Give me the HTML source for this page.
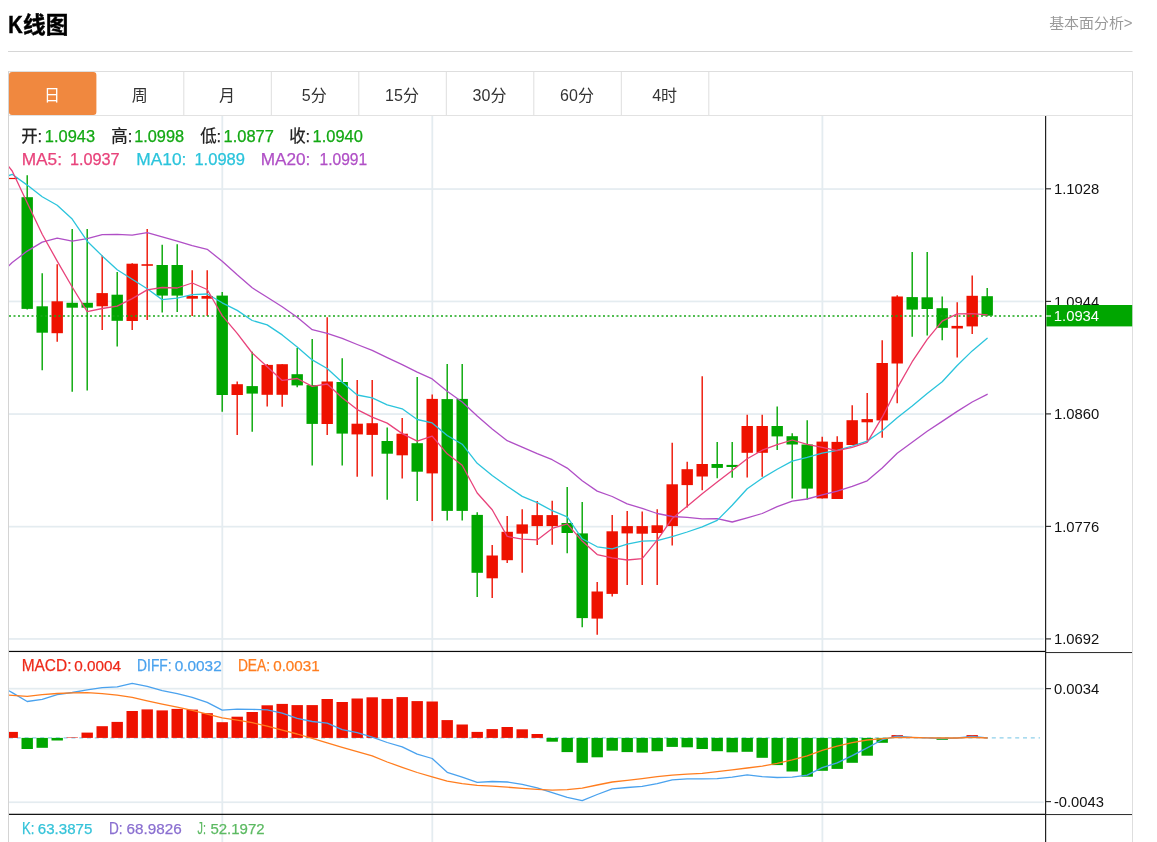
<!DOCTYPE html>
<html lang="zh-CN"><head><meta charset="utf-8"><title>K线图</title>
<style>html,body{margin:0;padding:0;background:#fff}body{width:1157px;height:842px;overflow:hidden;font-family:"Liberation Sans","Noto Sans CJK SC",sans-serif}svg{display:block}text{font-family:"Liberation Sans","Noto Sans CJK SC",sans-serif}</style>
</head><body>
<svg width="1157" height="842" viewBox="0 0 1157 842">
<defs><clipPath id="cp"><rect x="9" y="116" width="1036.5" height="726"/></clipPath></defs>
<rect x="0" y="0" width="1157" height="842" fill="#fff"/>
<text x="8.2" y="32.9" font-size="23" font-weight="bold" fill="#000" stroke="#000" stroke-width="0.5" textLength="14.4" lengthAdjust="spacingAndGlyphs">K</text>
<text x="23.0" y="32.9" font-size="22.5" font-weight="bold" fill="#000" stroke="#000" stroke-width="0.45" textLength="45.3" lengthAdjust="spacingAndGlyphs">线图</text>
<text x="1049.2" y="28.3" font-size="14" fill="#999" textLength="83.4" lengthAdjust="spacingAndGlyphs">基本面分析&gt;</text>
<rect x="8" y="51" width="1124.5" height="1" fill="#d6d6d6"/>
<rect x="8" y="71" width="1124.5" height="1" fill="#dedede"/>
<rect x="8" y="115" width="1124.5" height="1" fill="#e2e2e2"/>
<rect x="8" y="71" width="1" height="771" fill="#d4d4d4"/>
<rect x="1132" y="71" width="1" height="771" fill="#dedede"/>
<rect x="183.3" y="72" width="1" height="43" fill="#dedede"/>
<rect x="270.8" y="72" width="1" height="43" fill="#dedede"/>
<rect x="358.3" y="72" width="1" height="43" fill="#dedede"/>
<rect x="445.8" y="72" width="1" height="43" fill="#dedede"/>
<rect x="533.3" y="72" width="1" height="43" fill="#dedede"/>
<rect x="620.8" y="72" width="1" height="43" fill="#dedede"/>
<rect x="708.3" y="72" width="1" height="43" fill="#dedede"/>
<rect x="9" y="72" width="87.4" height="43" rx="3" ry="3" fill="#f0883f"/>
<text x="52.0" y="100.8" font-size="16" text-anchor="middle" fill="#fff">日</text>
<text x="139.7" y="100.8" font-size="16" text-anchor="middle" fill="#333">周</text>
<text x="227.1" y="100.8" font-size="16" text-anchor="middle" fill="#333">月</text>
<text x="314.2" y="100.8" font-size="16" text-anchor="middle" fill="#333">5分</text>
<text x="402.0" y="100.8" font-size="16" text-anchor="middle" fill="#333">15分</text>
<text x="489.5" y="100.8" font-size="16" text-anchor="middle" fill="#333">30分</text>
<text x="577.0" y="100.8" font-size="16" text-anchor="middle" fill="#333">60分</text>
<text x="664.6" y="100.8" font-size="16" text-anchor="middle" fill="#333">4时</text>
<rect x="9" y="188.2" width="1034.8" height="1.7" fill="#e4ecf0"/>
<rect x="9" y="300.6" width="1034.8" height="1.7" fill="#e4ecf0"/>
<rect x="9" y="413.2" width="1034.8" height="1.7" fill="#e4ecf0"/>
<rect x="9" y="525.8" width="1034.8" height="1.7" fill="#e4ecf0"/>
<rect x="9" y="638.1" width="1034.8" height="1.7" fill="#e4ecf0"/>
<rect x="9" y="687.8" width="1034.8" height="1.7" fill="#e4ecf0"/>
<rect x="9" y="801.4" width="1034.8" height="1.7" fill="#e4ecf0"/>
<rect x="221.4" y="116" width="1.8" height="726" fill="#e4ecf0"/>
<rect x="431.4" y="116" width="1.8" height="726" fill="#e4ecf0"/>
<rect x="821.5" y="116" width="1.8" height="726" fill="#e4ecf0"/>
<g clip-path="url(#cp)">
<rect x="6.5" y="177.9" width="11.4" height="1.2" fill="#ee1100"/>
<line x1="27.2" y1="175.2" x2="27.2" y2="309.5" stroke="#00a600" stroke-width="1.4"/>
<rect x="21.5" y="197.2" width="11.4" height="111.7" fill="#00a600"/>
<line x1="42.2" y1="273.2" x2="42.2" y2="370.2" stroke="#00a600" stroke-width="1.4"/>
<rect x="36.5" y="306.3" width="11.4" height="26.4" fill="#00a600"/>
<line x1="57.2" y1="264.2" x2="57.2" y2="341.7" stroke="#ee1100" stroke-width="1.4"/>
<rect x="51.5" y="301.3" width="11.4" height="31.9" fill="#ee1100"/>
<line x1="72.2" y1="229.1" x2="72.2" y2="391.7" stroke="#00a600" stroke-width="1.4"/>
<rect x="66.5" y="302.8" width="11.4" height="4.9" fill="#00a600"/>
<line x1="87.2" y1="229.1" x2="87.2" y2="390.6" stroke="#00a600" stroke-width="1.4"/>
<rect x="81.5" y="302.8" width="11.4" height="4.9" fill="#00a600"/>
<line x1="102.2" y1="255.6" x2="102.2" y2="330.1" stroke="#ee1100" stroke-width="1.4"/>
<rect x="96.5" y="293.1" width="11.4" height="13.2" fill="#ee1100"/>
<line x1="117.2" y1="272.0" x2="117.2" y2="346.6" stroke="#00a600" stroke-width="1.4"/>
<rect x="111.5" y="294.7" width="11.4" height="26.1" fill="#00a600"/>
<line x1="132.2" y1="263.2" x2="132.2" y2="330.1" stroke="#ee1100" stroke-width="1.4"/>
<rect x="126.5" y="263.7" width="11.4" height="57.3" fill="#ee1100"/>
<line x1="147.2" y1="229.1" x2="147.2" y2="320.1" stroke="#ee1100" stroke-width="1.4"/>
<rect x="141.5" y="264.2" width="11.4" height="1.6" fill="#ee1100"/>
<line x1="162.2" y1="244.7" x2="162.2" y2="312.5" stroke="#00a600" stroke-width="1.4"/>
<rect x="156.5" y="265.0" width="11.4" height="30.6" fill="#00a600"/>
<line x1="177.2" y1="244.2" x2="177.2" y2="312.0" stroke="#00a600" stroke-width="1.4"/>
<rect x="171.5" y="265.0" width="11.4" height="30.6" fill="#00a600"/>
<line x1="192.2" y1="270.3" x2="192.2" y2="316.0" stroke="#ee1100" stroke-width="1.4"/>
<rect x="186.5" y="296.0" width="11.4" height="2.7" fill="#ee1100"/>
<line x1="207.2" y1="270.3" x2="207.2" y2="316.0" stroke="#ee1100" stroke-width="1.4"/>
<rect x="201.5" y="296.0" width="11.4" height="2.7" fill="#ee1100"/>
<line x1="222.2" y1="292.1" x2="222.2" y2="411.8" stroke="#00a600" stroke-width="1.4"/>
<rect x="216.5" y="295.6" width="11.4" height="99.4" fill="#00a600"/>
<line x1="237.2" y1="381.6" x2="237.2" y2="434.9" stroke="#ee1100" stroke-width="1.4"/>
<rect x="231.5" y="384.2" width="11.4" height="10.8" fill="#ee1100"/>
<line x1="252.2" y1="351.7" x2="252.2" y2="431.8" stroke="#00a600" stroke-width="1.4"/>
<rect x="246.5" y="386.1" width="11.4" height="7.5" fill="#00a600"/>
<line x1="267.2" y1="364.0" x2="267.2" y2="406.5" stroke="#ee1100" stroke-width="1.4"/>
<rect x="261.5" y="364.9" width="11.4" height="29.9" fill="#ee1100"/>
<line x1="282.2" y1="364.2" x2="282.2" y2="406.8" stroke="#ee1100" stroke-width="1.4"/>
<rect x="276.5" y="364.2" width="11.4" height="30.6" fill="#ee1100"/>
<line x1="297.2" y1="347.9" x2="297.2" y2="387.2" stroke="#00a600" stroke-width="1.4"/>
<rect x="291.5" y="374.2" width="11.4" height="11.2" fill="#00a600"/>
<line x1="312.2" y1="339.1" x2="312.2" y2="465.5" stroke="#00a600" stroke-width="1.4"/>
<rect x="306.5" y="385.1" width="11.4" height="38.8" fill="#00a600"/>
<line x1="327.2" y1="317.2" x2="327.2" y2="434.9" stroke="#ee1100" stroke-width="1.4"/>
<rect x="321.5" y="381.5" width="11.4" height="42.5" fill="#ee1100"/>
<line x1="342.2" y1="358.3" x2="342.2" y2="465.4" stroke="#00a600" stroke-width="1.4"/>
<rect x="336.5" y="382.0" width="11.4" height="51.6" fill="#00a600"/>
<line x1="357.2" y1="379.9" x2="357.2" y2="476.8" stroke="#ee1100" stroke-width="1.4"/>
<rect x="351.5" y="423.7" width="11.4" height="10.7" fill="#ee1100"/>
<line x1="372.2" y1="379.9" x2="372.2" y2="476.4" stroke="#ee1100" stroke-width="1.4"/>
<rect x="366.5" y="423.2" width="11.4" height="11.7" fill="#ee1100"/>
<line x1="387.2" y1="427.5" x2="387.2" y2="499.8" stroke="#00a600" stroke-width="1.4"/>
<rect x="381.5" y="441.0" width="11.4" height="12.7" fill="#00a600"/>
<line x1="402.2" y1="418.1" x2="402.2" y2="478.6" stroke="#ee1100" stroke-width="1.4"/>
<rect x="396.5" y="433.7" width="11.4" height="21.6" fill="#ee1100"/>
<line x1="417.2" y1="377.1" x2="417.2" y2="501.0" stroke="#00a600" stroke-width="1.4"/>
<rect x="411.5" y="443.2" width="11.4" height="28.5" fill="#00a600"/>
<line x1="432.2" y1="394.4" x2="432.2" y2="520.9" stroke="#ee1100" stroke-width="1.4"/>
<rect x="426.5" y="398.9" width="11.4" height="74.5" fill="#ee1100"/>
<line x1="447.2" y1="364.0" x2="447.2" y2="520.4" stroke="#00a600" stroke-width="1.4"/>
<rect x="441.5" y="399.1" width="11.4" height="111.8" fill="#00a600"/>
<line x1="462.2" y1="364.0" x2="462.2" y2="520.6" stroke="#00a600" stroke-width="1.4"/>
<rect x="456.5" y="398.9" width="11.4" height="112.0" fill="#00a600"/>
<line x1="477.2" y1="512.3" x2="477.2" y2="597.0" stroke="#00a600" stroke-width="1.4"/>
<rect x="471.5" y="514.9" width="11.4" height="57.9" fill="#00a600"/>
<line x1="492.2" y1="545.1" x2="492.2" y2="597.9" stroke="#ee1100" stroke-width="1.4"/>
<rect x="486.5" y="555.5" width="11.4" height="22.8" fill="#ee1100"/>
<line x1="507.2" y1="516.1" x2="507.2" y2="562.9" stroke="#ee1100" stroke-width="1.4"/>
<rect x="501.5" y="531.8" width="11.4" height="28.4" fill="#ee1100"/>
<line x1="522.2" y1="509.3" x2="522.2" y2="572.8" stroke="#ee1100" stroke-width="1.4"/>
<rect x="516.5" y="524.4" width="11.4" height="9.3" fill="#ee1100"/>
<line x1="537.2" y1="501.0" x2="537.2" y2="545.1" stroke="#ee1100" stroke-width="1.4"/>
<rect x="531.5" y="515.1" width="11.4" height="11.0" fill="#ee1100"/>
<line x1="552.2" y1="500.7" x2="552.2" y2="544.8" stroke="#ee1100" stroke-width="1.4"/>
<rect x="546.5" y="515.1" width="11.4" height="11.0" fill="#ee1100"/>
<line x1="567.2" y1="486.9" x2="567.2" y2="553.3" stroke="#00a600" stroke-width="1.4"/>
<rect x="561.5" y="523.0" width="11.4" height="10.0" fill="#00a600"/>
<line x1="582.2" y1="501.9" x2="582.2" y2="627.2" stroke="#00a600" stroke-width="1.4"/>
<rect x="576.5" y="533.4" width="11.4" height="84.7" fill="#00a600"/>
<line x1="597.2" y1="582.0" x2="597.2" y2="634.7" stroke="#ee1100" stroke-width="1.4"/>
<rect x="591.5" y="591.5" width="11.4" height="27.1" fill="#ee1100"/>
<line x1="612.2" y1="515.1" x2="612.2" y2="596.6" stroke="#ee1100" stroke-width="1.4"/>
<rect x="606.5" y="531.3" width="11.4" height="62.6" fill="#ee1100"/>
<line x1="627.2" y1="511.1" x2="627.2" y2="584.9" stroke="#ee1100" stroke-width="1.4"/>
<rect x="621.5" y="526.1" width="11.4" height="7.3" fill="#ee1100"/>
<line x1="642.2" y1="511.4" x2="642.2" y2="584.9" stroke="#ee1100" stroke-width="1.4"/>
<rect x="636.5" y="526.1" width="11.4" height="7.6" fill="#ee1100"/>
<line x1="657.2" y1="509.2" x2="657.2" y2="584.9" stroke="#ee1100" stroke-width="1.4"/>
<rect x="651.5" y="525.3" width="11.4" height="7.7" fill="#ee1100"/>
<line x1="672.2" y1="442.8" x2="672.2" y2="545.6" stroke="#ee1100" stroke-width="1.4"/>
<rect x="666.5" y="484.3" width="11.4" height="41.8" fill="#ee1100"/>
<line x1="687.2" y1="461.8" x2="687.2" y2="507.4" stroke="#ee1100" stroke-width="1.4"/>
<rect x="681.5" y="469.2" width="11.4" height="15.9" fill="#ee1100"/>
<line x1="702.2" y1="376.2" x2="702.2" y2="490.3" stroke="#ee1100" stroke-width="1.4"/>
<rect x="696.5" y="464.0" width="11.4" height="12.5" fill="#ee1100"/>
<line x1="717.2" y1="441.9" x2="717.2" y2="478.2" stroke="#00a600" stroke-width="1.4"/>
<rect x="711.5" y="464.0" width="11.4" height="3.9" fill="#00a600"/>
<line x1="732.2" y1="441.9" x2="732.2" y2="477.7" stroke="#00a600" stroke-width="1.4"/>
<rect x="726.5" y="464.9" width="11.4" height="2.1" fill="#00a600"/>
<line x1="747.2" y1="414.8" x2="747.2" y2="477.4" stroke="#ee1100" stroke-width="1.4"/>
<rect x="741.5" y="426.0" width="11.4" height="26.8" fill="#ee1100"/>
<line x1="762.2" y1="414.8" x2="762.2" y2="476.8" stroke="#ee1100" stroke-width="1.4"/>
<rect x="756.5" y="426.0" width="11.4" height="26.8" fill="#ee1100"/>
<line x1="777.2" y1="406.5" x2="777.2" y2="450.0" stroke="#00a600" stroke-width="1.4"/>
<rect x="771.5" y="426.0" width="11.4" height="10.4" fill="#00a600"/>
<line x1="792.2" y1="433.3" x2="792.2" y2="498.6" stroke="#00a600" stroke-width="1.4"/>
<rect x="786.5" y="436.2" width="11.4" height="8.3" fill="#00a600"/>
<line x1="807.2" y1="420.3" x2="807.2" y2="499.5" stroke="#00a600" stroke-width="1.4"/>
<rect x="801.5" y="444.5" width="11.4" height="44.1" fill="#00a600"/>
<line x1="822.2" y1="436.7" x2="822.2" y2="498.4" stroke="#ee1100" stroke-width="1.4"/>
<rect x="816.5" y="441.6" width="11.4" height="56.8" fill="#ee1100"/>
<line x1="837.2" y1="436.2" x2="837.2" y2="499.0" stroke="#ee1100" stroke-width="1.4"/>
<rect x="831.5" y="441.9" width="11.4" height="57.1" fill="#ee1100"/>
<line x1="852.2" y1="405.2" x2="852.2" y2="445.0" stroke="#ee1100" stroke-width="1.4"/>
<rect x="846.5" y="420.2" width="11.4" height="24.8" fill="#ee1100"/>
<line x1="867.2" y1="392.9" x2="867.2" y2="440.8" stroke="#ee1100" stroke-width="1.4"/>
<rect x="861.5" y="419.1" width="11.4" height="3.2" fill="#ee1100"/>
<line x1="882.2" y1="340.3" x2="882.2" y2="437.8" stroke="#ee1100" stroke-width="1.4"/>
<rect x="876.5" y="363.0" width="11.4" height="57.4" fill="#ee1100"/>
<line x1="897.2" y1="295.3" x2="897.2" y2="403.2" stroke="#ee1100" stroke-width="1.4"/>
<rect x="891.5" y="296.5" width="11.4" height="67.0" fill="#ee1100"/>
<line x1="912.2" y1="252.1" x2="912.2" y2="336.8" stroke="#00a600" stroke-width="1.4"/>
<rect x="906.5" y="297.1" width="11.4" height="12.5" fill="#00a600"/>
<line x1="927.2" y1="252.1" x2="927.2" y2="335.6" stroke="#00a600" stroke-width="1.4"/>
<rect x="921.5" y="297.3" width="11.4" height="11.7" fill="#00a600"/>
<line x1="942.2" y1="296.5" x2="942.2" y2="340.3" stroke="#00a600" stroke-width="1.4"/>
<rect x="936.5" y="308.2" width="11.4" height="19.6" fill="#00a600"/>
<line x1="957.2" y1="302.2" x2="957.2" y2="357.4" stroke="#ee1100" stroke-width="1.4"/>
<rect x="951.5" y="325.9" width="11.4" height="2.6" fill="#ee1100"/>
<line x1="972.2" y1="275.4" x2="972.2" y2="333.9" stroke="#ee1100" stroke-width="1.4"/>
<rect x="966.5" y="295.8" width="11.4" height="30.6" fill="#ee1100"/>
<line x1="987.2" y1="288.0" x2="987.2" y2="315.7" stroke="#00a600" stroke-width="1.4"/>
<rect x="981.5" y="296.2" width="11.4" height="19.5" fill="#00a600"/>
<line x1="9" y1="316" x2="1043" y2="316" stroke="#18a818" stroke-width="1.7" stroke-dasharray="2 2.5"/>
<polyline fill="none" stroke="#b04fc6" stroke-width="1.3" stroke-linejoin="round" stroke-linecap="round" points="8.8,265.8 12.2,262.5 27.2,251.1 42.2,242.1 57.2,238.1 72.2,241.2 87.2,238.7 102.2,234.7 117.2,234.3 132.2,235.2 147.2,232.6 162.2,236.9 177.2,241.2 192.2,245.6 207.2,249.3 222.2,261.2 237.2,274.8 252.2,287.8 267.2,297.3 282.2,306.8 297.2,317.2 312.2,329.7 327.2,333.4 342.2,338.4 357.2,344.5 372.2,350.3 387.2,357.6 402.2,364.6 417.2,372.2 432.2,378.9 447.2,391.3 462.2,402.0 477.2,415.9 492.2,428.9 507.2,440.7 522.2,447.1 537.2,453.7 552.2,459.7 567.2,468.1 582.2,480.8 597.2,491.1 612.2,496.5 627.2,503.8 642.2,508.4 657.2,513.5 672.2,516.5 687.2,517.3 702.2,518.8 717.2,518.6 732.2,522.0 747.2,517.8 762.2,513.5 777.2,506.7 792.2,501.2 807.2,499.0 822.2,494.9 837.2,491.2 852.2,486.4 867.2,480.8 882.2,468.0 897.2,453.2 912.2,442.2 927.2,431.3 942.2,421.4 957.2,411.4 972.2,402.0 987.2,394.3"/>
<polyline fill="none" stroke="#2bc4dc" stroke-width="1.3" stroke-linejoin="round" stroke-linecap="round" points="8.8,175.6 12.2,174.3 27.2,185.1 42.2,196.8 57.2,205.3 72.2,219.1 87.2,241.2 102.2,255.9 117.2,269.8 132.2,279.3 147.2,288.8 162.2,299.6 177.2,298.2 192.2,294.6 207.2,294.0 222.2,302.8 237.2,310.4 252.2,320.5 267.2,324.9 282.2,334.9 297.2,347.1 312.2,359.9 327.2,368.5 342.2,382.2 357.2,395.0 372.2,397.8 387.2,404.8 402.2,408.8 417.2,419.5 432.2,422.9 447.2,435.5 462.2,444.2 477.2,463.3 492.2,475.5 507.2,486.3 522.2,496.4 537.2,502.6 552.2,510.7 567.2,516.8 582.2,538.8 597.2,546.8 612.2,548.9 627.2,544.2 642.2,541.2 657.2,540.6 672.2,536.6 687.2,532.0 702.2,526.9 717.2,520.4 732.2,505.3 747.2,488.7 762.2,478.2 777.2,469.2 792.2,461.1 807.2,457.4 822.2,453.1 837.2,450.4 852.2,446.0 867.2,441.1 882.2,430.7 897.2,417.8 912.2,406.1 927.2,393.4 942.2,381.7 957.2,365.5 972.2,350.9 987.2,338.3"/>
<polyline fill="none" stroke="#e8437b" stroke-width="1.3" stroke-linejoin="round" stroke-linecap="round" points="8.8,166.7 12.2,171.0 27.2,202.8 42.2,234.2 57.2,261.1 72.2,287.0 87.2,311.7 102.2,308.5 117.2,306.1 132.2,298.6 147.2,289.9 162.2,287.5 177.2,288.0 192.2,283.0 207.2,289.5 222.2,315.6 237.2,333.4 252.2,353.0 267.2,366.7 282.2,380.4 297.2,378.5 312.2,386.4 327.2,384.0 342.2,397.7 357.2,409.6 372.2,417.2 387.2,423.1 402.2,433.6 417.2,441.2 432.2,436.2 447.2,453.8 462.2,465.2 477.2,493.0 492.2,509.8 507.2,536.4 522.2,539.1 537.2,539.9 552.2,528.4 567.2,523.9 582.2,541.1 597.2,554.6 612.2,557.8 627.2,560.0 642.2,558.6 657.2,540.1 672.2,518.6 687.2,506.2 702.2,493.8 717.2,482.1 732.2,470.5 747.2,458.8 762.2,450.2 777.2,444.7 792.2,440.0 807.2,444.3 822.2,447.4 837.2,450.6 852.2,447.4 867.2,442.3 882.2,417.2 897.2,388.1 912.2,361.7 927.2,339.4 942.2,321.2 957.2,313.8 972.2,313.6 987.2,314.8"/>
<line x1="9" y1="737.9" x2="1040" y2="737.9" stroke="#8ecfea" stroke-width="1.4" stroke-dasharray="4 3.8"/>
<rect x="6.5" y="731.9" width="11.4" height="6.0" fill="#ee1100"/>
<rect x="21.5" y="737.9" width="11.4" height="11.1" fill="#00a600"/>
<rect x="36.5" y="737.9" width="11.4" height="9.9" fill="#00a600"/>
<rect x="51.5" y="737.9" width="11.4" height="2.6" fill="#00a600"/>
<rect x="66.5" y="737.4" width="11.4" height="0.5" fill="#ee1100"/>
<rect x="81.5" y="732.6" width="11.4" height="5.3" fill="#ee1100"/>
<rect x="96.5" y="726.2" width="11.4" height="11.7" fill="#ee1100"/>
<rect x="111.5" y="721.9" width="11.4" height="16.0" fill="#ee1100"/>
<rect x="126.5" y="711.0" width="11.4" height="26.9" fill="#ee1100"/>
<rect x="141.5" y="709.4" width="11.4" height="28.5" fill="#ee1100"/>
<rect x="156.5" y="710.4" width="11.4" height="27.5" fill="#ee1100"/>
<rect x="171.5" y="708.9" width="11.4" height="29.0" fill="#ee1100"/>
<rect x="186.5" y="709.6" width="11.4" height="28.3" fill="#ee1100"/>
<rect x="201.5" y="713.2" width="11.4" height="24.7" fill="#ee1100"/>
<rect x="216.5" y="722.2" width="11.4" height="15.7" fill="#ee1100"/>
<rect x="231.5" y="716.7" width="11.4" height="21.2" fill="#ee1100"/>
<rect x="246.5" y="712.0" width="11.4" height="25.9" fill="#ee1100"/>
<rect x="261.5" y="705.3" width="11.4" height="32.6" fill="#ee1100"/>
<rect x="276.5" y="703.9" width="11.4" height="34.0" fill="#ee1100"/>
<rect x="291.5" y="705.1" width="11.4" height="32.8" fill="#ee1100"/>
<rect x="306.5" y="705.1" width="11.4" height="32.8" fill="#ee1100"/>
<rect x="321.5" y="699.0" width="11.4" height="38.9" fill="#ee1100"/>
<rect x="336.5" y="702.0" width="11.4" height="35.9" fill="#ee1100"/>
<rect x="351.5" y="698.5" width="11.4" height="39.4" fill="#ee1100"/>
<rect x="366.5" y="697.3" width="11.4" height="40.6" fill="#ee1100"/>
<rect x="381.5" y="698.9" width="11.4" height="39.0" fill="#ee1100"/>
<rect x="396.5" y="697.1" width="11.4" height="40.8" fill="#ee1100"/>
<rect x="411.5" y="701.1" width="11.4" height="36.8" fill="#ee1100"/>
<rect x="426.5" y="701.5" width="11.4" height="36.4" fill="#ee1100"/>
<rect x="441.5" y="720.1" width="11.4" height="17.8" fill="#ee1100"/>
<rect x="456.5" y="724.5" width="11.4" height="13.4" fill="#ee1100"/>
<rect x="471.5" y="731.9" width="11.4" height="6.0" fill="#ee1100"/>
<rect x="486.5" y="729.1" width="11.4" height="8.8" fill="#ee1100"/>
<rect x="501.5" y="727.0" width="11.4" height="10.9" fill="#ee1100"/>
<rect x="516.5" y="729.3" width="11.4" height="8.6" fill="#ee1100"/>
<rect x="531.5" y="734.0" width="11.4" height="3.9" fill="#ee1100"/>
<rect x="546.5" y="737.9" width="11.4" height="3.8" fill="#00a600"/>
<rect x="561.5" y="737.9" width="11.4" height="14.2" fill="#00a600"/>
<rect x="576.5" y="737.9" width="11.4" height="24.9" fill="#00a600"/>
<rect x="591.5" y="737.9" width="11.4" height="19.4" fill="#00a600"/>
<rect x="606.5" y="737.9" width="11.4" height="12.8" fill="#00a600"/>
<rect x="621.5" y="737.9" width="11.4" height="14.2" fill="#00a600"/>
<rect x="636.5" y="737.9" width="11.4" height="14.7" fill="#00a600"/>
<rect x="651.5" y="737.9" width="11.4" height="13.3" fill="#00a600"/>
<rect x="666.5" y="737.9" width="11.4" height="9.0" fill="#00a600"/>
<rect x="681.5" y="737.9" width="11.4" height="9.4" fill="#00a600"/>
<rect x="696.5" y="737.9" width="11.4" height="11.1" fill="#00a600"/>
<rect x="711.5" y="737.9" width="11.4" height="13.3" fill="#00a600"/>
<rect x="726.5" y="737.9" width="11.4" height="14.4" fill="#00a600"/>
<rect x="741.5" y="737.9" width="11.4" height="13.9" fill="#00a600"/>
<rect x="756.5" y="737.9" width="11.4" height="19.9" fill="#00a600"/>
<rect x="771.5" y="737.9" width="11.4" height="27.2" fill="#00a600"/>
<rect x="786.5" y="737.9" width="11.4" height="33.6" fill="#00a600"/>
<rect x="801.5" y="737.9" width="11.4" height="38.8" fill="#00a600"/>
<rect x="816.5" y="737.9" width="11.4" height="32.9" fill="#00a600"/>
<rect x="831.5" y="737.9" width="11.4" height="31.0" fill="#00a600"/>
<rect x="846.5" y="737.9" width="11.4" height="24.9" fill="#00a600"/>
<rect x="861.5" y="737.9" width="11.4" height="17.8" fill="#00a600"/>
<rect x="876.5" y="737.9" width="11.4" height="4.9" fill="#00a600"/>
<rect x="891.5" y="735.1" width="11.4" height="2.8" fill="#ee1100"/>
<rect x="906.5" y="737.6" width="11.4" height="0.3" fill="#ee1100"/>
<rect x="936.5" y="737.9" width="11.4" height="1.9" fill="#00a600"/>
<rect x="966.5" y="735.1" width="11.4" height="2.8" fill="#ee1100"/>
<polyline fill="none" stroke="#4aa2ee" stroke-width="1.3" stroke-linejoin="round" stroke-linecap="round" points="8.8,690.7 12.2,692.6 27.2,701.5 42.2,699.4 57.2,694.7 72.2,692.5 87.2,689.9 102.2,687.6 117.2,686.8 132.2,683.3 147.2,686.4 162.2,690.7 177.2,693.7 192.2,697.3 207.2,702.3 222.2,710.1 237.2,709.1 252.2,709.4 267.2,709.8 282.2,713.2 297.2,718.4 312.2,721.5 327.2,723.1 342.2,729.6 357.2,732.6 372.2,737.1 387.2,742.5 402.2,746.9 417.2,754.2 432.2,758.5 447.2,772.3 462.2,777.2 477.2,782.4 492.2,781.5 507.2,782.0 522.2,784.4 537.2,787.9 552.2,792.7 567.2,797.4 582.2,800.7 597.2,794.5 612.2,788.8 627.2,787.5 642.2,786.3 657.2,783.6 672.2,779.8 687.2,778.9 702.2,778.9 717.2,778.6 732.2,777.2 747.2,774.9 762.2,776.7 777.2,777.5 792.2,777.2 807.2,775.1 822.2,767.7 837.2,762.8 852.2,755.6 867.2,747.8 882.2,739.7 897.2,736.2 912.2,737.4 927.2,737.9 942.2,738.5 957.2,738.0 972.2,736.3 987.2,737.8"/>
<polyline fill="none" stroke="#ff7d1f" stroke-width="1.3" stroke-linejoin="round" stroke-linecap="round" points="8.8,695.1 12.2,695.3 27.2,696.3 42.2,694.7 57.2,693.5 72.2,692.8 87.2,692.6 102.2,693.7 117.2,695.1 132.2,697.3 147.2,700.8 162.2,704.1 177.2,707.2 192.2,710.4 207.2,714.1 222.2,717.9 237.2,720.1 252.2,722.7 267.2,726.2 282.2,730.2 297.2,734.0 312.2,738.3 327.2,742.9 342.2,747.3 357.2,751.6 372.2,755.9 387.2,762.0 402.2,767.3 417.2,772.5 432.2,776.8 447.2,781.1 462.2,783.6 477.2,785.3 492.2,786.2 507.2,787.2 522.2,788.4 537.2,789.4 552.2,790.1 567.2,789.6 582.2,788.2 597.2,785.0 612.2,782.0 627.2,780.3 642.2,778.6 657.2,776.7 672.2,775.1 687.2,774.2 702.2,773.4 717.2,771.6 732.2,769.9 747.2,768.0 762.2,766.2 777.2,763.3 792.2,759.9 807.2,755.9 822.2,750.4 837.2,746.1 852.2,742.6 867.2,740.0 882.2,738.6 897.2,737.4 912.2,737.5 927.2,737.9 942.2,738.0 957.2,738.0 972.2,737.3 987.2,738.0"/>
</g>
<rect x="9" y="650.85" width="1036.5" height="1.2" fill="#0a0a0a"/>
<rect x="1045.5" y="652" width="86.5" height="1.05" fill="#333"/>
<rect x="9" y="813.75" width="1036.5" height="1.2" fill="#0a0a0a"/>
<rect x="1045.5" y="814" width="86.5" height="1.05" fill="#333"/>
<rect x="1045" y="116" width="1.2" height="726" fill="#222"/>
<rect x="1046" y="188.2" width="5" height="1.2" fill="#333"/>
<text x="1053.9" y="194.2" font-size="15.1" fill="#111" textLength="45.3" lengthAdjust="spacingAndGlyphs">1.1028</text>
<rect x="1046" y="300.8" width="5" height="1.2" fill="#333"/>
<text x="1053.9" y="306.8" font-size="15.1" fill="#111" textLength="45.3" lengthAdjust="spacingAndGlyphs">1.0944</text>
<rect x="1046" y="413.3" width="5" height="1.2" fill="#333"/>
<text x="1053.9" y="419.3" font-size="15.1" fill="#111" textLength="45.3" lengthAdjust="spacingAndGlyphs">1.0860</text>
<rect x="1046" y="525.8" width="5" height="1.2" fill="#333"/>
<text x="1053.9" y="531.8" font-size="15.1" fill="#111" textLength="45.3" lengthAdjust="spacingAndGlyphs">1.0776</text>
<rect x="1046" y="638.3" width="5" height="1.2" fill="#333"/>
<text x="1053.9" y="644.3" font-size="15.1" fill="#111" textLength="45.3" lengthAdjust="spacingAndGlyphs">1.0692</text>
<rect x="1046" y="688.0" width="5" height="1.2" fill="#333"/>
<text x="1053.9" y="694.0" font-size="15.1" fill="#111" textLength="45.3" lengthAdjust="spacingAndGlyphs">0.0034</text>
<rect x="1046" y="801.0" width="5" height="1.2" fill="#333"/>
<text x="1053.9" y="807.0" font-size="15.1" fill="#111" textLength="50" lengthAdjust="spacingAndGlyphs">-0.0043</text>
<rect x="1046.4" y="305" width="85.8" height="21.4" fill="#00a600"/>
<rect x="1046" y="315.4" width="5" height="1.2" fill="#fff"/>
<text x="1053.8" y="321.4" font-size="15.1" fill="#fff" textLength="45.3" lengthAdjust="spacingAndGlyphs">1.0934</text>
<text x="21.2" y="141.9" font-size="16.6" fill="#222" stroke="#222" stroke-width="0.25" textLength="21.0" lengthAdjust="spacingAndGlyphs">开:</text>
<text x="44.8" y="141.8" font-size="15.7" fill="#12a812" stroke="#12a812" stroke-width="0.25" textLength="50.3" lengthAdjust="spacingAndGlyphs">1.0943</text>
<text x="111.3" y="141.9" font-size="16.6" fill="#222" stroke="#222" stroke-width="0.25" textLength="21.0" lengthAdjust="spacingAndGlyphs">高:</text>
<text x="134.2" y="141.8" font-size="15.7" fill="#12a812" stroke="#12a812" stroke-width="0.25" textLength="49.9" lengthAdjust="spacingAndGlyphs">1.0998</text>
<text x="200.2" y="141.9" font-size="16.6" fill="#222" stroke="#222" stroke-width="0.25" textLength="21.0" lengthAdjust="spacingAndGlyphs">低:</text>
<text x="223.6" y="141.8" font-size="15.7" fill="#12a812" stroke="#12a812" stroke-width="0.25" textLength="50.3" lengthAdjust="spacingAndGlyphs">1.0877</text>
<text x="289.2" y="141.9" font-size="16.6" fill="#222" stroke="#222" stroke-width="0.25" textLength="21.0" lengthAdjust="spacingAndGlyphs">收:</text>
<text x="312.6" y="141.8" font-size="15.7" fill="#12a812" stroke="#12a812" stroke-width="0.25" textLength="50.3" lengthAdjust="spacingAndGlyphs">1.0940</text>
<text x="21.7" y="164.5" font-size="16.4" fill="#e8437b" stroke="#e8437b" stroke-width="0.25" textLength="40.3" lengthAdjust="spacingAndGlyphs">MA5:</text>
<text x="69.9" y="164.5" font-size="15.7" fill="#e8437b" stroke="#e8437b" stroke-width="0.25" textLength="49.7" lengthAdjust="spacingAndGlyphs">1.0937</text>
<text x="136.3" y="164.5" font-size="16.4" fill="#2bc4dc" stroke="#2bc4dc" stroke-width="0.25" textLength="50.1" lengthAdjust="spacingAndGlyphs">MA10:</text>
<text x="194.4" y="164.5" font-size="15.7" fill="#2bc4dc" stroke="#2bc4dc" stroke-width="0.25" textLength="50.6" lengthAdjust="spacingAndGlyphs">1.0989</text>
<text x="260.7" y="164.5" font-size="16.4" fill="#b04fc6" stroke="#b04fc6" stroke-width="0.25" textLength="49.7" lengthAdjust="spacingAndGlyphs">MA20:</text>
<text x="319.5" y="164.5" font-size="15.7" fill="#b04fc6" stroke="#b04fc6" stroke-width="0.25" textLength="47.7" lengthAdjust="spacingAndGlyphs">1.0991</text>
<text x="21.7" y="671.1" font-size="15.9" fill="#ee2a1a" stroke="#ee2a1a" stroke-width="0.25" textLength="49.8" lengthAdjust="spacingAndGlyphs">MACD:</text>
<text x="74.2" y="671.1" font-size="15.2" fill="#ee2a1a" stroke="#ee2a1a" stroke-width="0.25" textLength="46.8" lengthAdjust="spacingAndGlyphs">0.0004</text>
<text x="137.1" y="671.1" font-size="15.9" fill="#4aa2ee" stroke="#4aa2ee" stroke-width="0.25" textLength="34.5" lengthAdjust="spacingAndGlyphs">DIFF:</text>
<text x="174.7" y="671.1" font-size="15.2" fill="#4aa2ee" stroke="#4aa2ee" stroke-width="0.25" textLength="47.0" lengthAdjust="spacingAndGlyphs">0.0032</text>
<text x="237.9" y="671.1" font-size="15.9" fill="#ff7d1f" stroke="#ff7d1f" stroke-width="0.25" textLength="32.2" lengthAdjust="spacingAndGlyphs">DEA:</text>
<text x="273.2" y="671.1" font-size="15.2" fill="#ff7d1f" stroke="#ff7d1f" stroke-width="0.25" textLength="46.5" lengthAdjust="spacingAndGlyphs">0.0031</text>
<text x="21.9" y="833.8" font-size="15.9" fill="#35c3d9" stroke="#35c3d9" stroke-width="0.25" textLength="12.4" lengthAdjust="spacingAndGlyphs">K:</text>
<text x="37.8" y="833.8" font-size="15.2" fill="#35c3d9" stroke="#35c3d9" stroke-width="0.25" textLength="54.5" lengthAdjust="spacingAndGlyphs">63.3875</text>
<text x="109.0" y="833.8" font-size="15.9" fill="#8a6fd0" stroke="#8a6fd0" stroke-width="0.25" textLength="13.6" lengthAdjust="spacingAndGlyphs">D:</text>
<text x="126.6" y="833.8" font-size="15.2" fill="#8a6fd0" stroke="#8a6fd0" stroke-width="0.25" textLength="55.2" lengthAdjust="spacingAndGlyphs">68.9826</text>
<text x="197.6" y="833.8" font-size="15.9" fill="#5cba62" stroke="#5cba62" stroke-width="0.25" textLength="8.4" lengthAdjust="spacingAndGlyphs">J:</text>
<text x="210.4" y="833.8" font-size="15.2" fill="#5cba62" stroke="#5cba62" stroke-width="0.25" textLength="54.2" lengthAdjust="spacingAndGlyphs">52.1972</text>
</svg></body></html>
